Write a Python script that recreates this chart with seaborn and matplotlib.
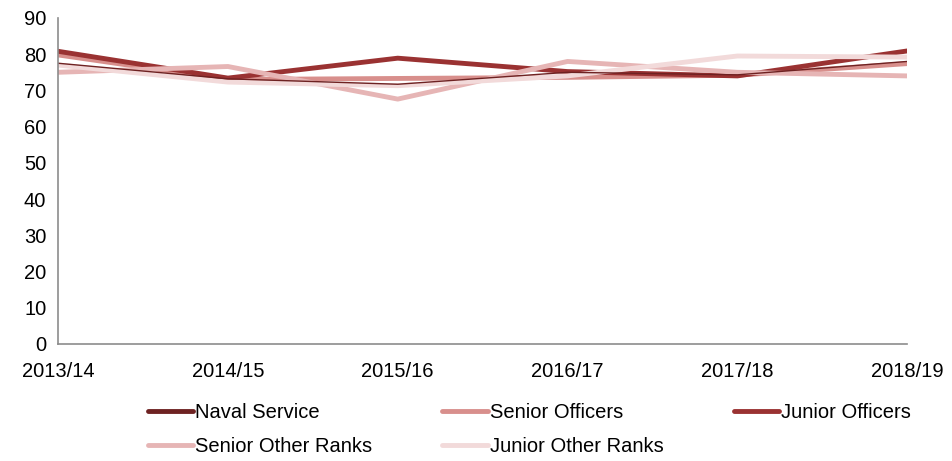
import numpy as np
import pandas as pd
import matplotlib
matplotlib.use("Agg")
import matplotlib.pyplot as plt
import seaborn as sns
from matplotlib.lines import Line2D

years = ["2013/14", "2014/15", "2015/16", "2016/17", "2017/18", "2018/19"]
naval_service = [77.5, 73.2, 71.7, 75.0, 74.3, 78.0]
senior_officers = [79.8, 73.0, 73.3, 73.6, 74.2, 77.4]
junior_officers = [80.8, 73.4, 78.9, 75.2, 74.0, 80.9]
senior_other_ranks = [75.0, 76.6, 67.6, 78.0, 75.0, 74.0]
junior_other_ranks = [77.0, 72.3, 71.3, 74.0, 79.5, 79.2]

series = ["Naval Service", "Senior Officers", "Junior Officers",
          "Senior Other Ranks", "Junior Other Ranks"]
colors = ["#6e2222", "#d88f8c", "#9a3232", "#e6b5b5", "#f2dada"]

df = pd.DataFrame({
    "year": years * 5,
    "value": naval_service + senior_officers + junior_officers
             + senior_other_ranks + junior_other_ranks,
    "group": [s for s in series for _ in years],
})
df["x"] = df["year"].map({y: i for i, y in enumerate(years)})

sns.set_style("white")
plt.rcParams["font.family"] = ["Liberation Sans", "DejaVu Sans"]
plt.rcParams["text.color"] = "black"

fig = plt.figure(figsize=(9.52, 4.61), dpi=100)
ax = fig.add_axes([0.061, 0.254, 0.892, 0.707])

# thick series first, naval service thin on top
order = ["Senior Officers", "Junior Officers", "Senior Other Ranks",
         "Junior Other Ranks", "Naval Service"]
for name in order:
    sub = df[df["group"] == name]
    lw = 1.0 if name == "Naval Service" else 3.5
    sns.lineplot(data=sub, x="x", y="value", color=colors[series.index(name)],
                 linewidth=lw, ax=ax, legend=False)

ax.set_xlim(0, len(years) - 1)
ax.set_ylim(0, 90)
ax.set_yticks(range(0, 91, 10))
ax.set_xticks(range(len(years)))
ax.set_xticklabels(years)
ax.set_xlabel("")
ax.set_ylabel("")
for side in ["top", "right"]:
    ax.spines[side].set_visible(False)
for side in ["left", "bottom"]:
    ax.spines[side].set_color("#8c8c8c")
    ax.spines[side].set_linewidth(1.2)
ax.tick_params(axis="both", direction="out", length=5, width=1.2,
               color="#8c8c8c", labelsize=14.5, labelcolor="black")
ax.tick_params(axis="x", pad=8)

# legend filled column-wise, so reorder to read row-wise like the original
leg_order = [0, 3, 1, 4, 2]
handles = [Line2D([0], [0], color=colors[i], linewidth=3.5) for i in leg_order]
labels = [series[i] for i in leg_order]
leg = fig.legend(handles, labels, loc="lower left", bbox_to_anchor=(0.155, 0.01),
                 ncol=3, frameon=False, fontsize=14.5, handlelength=2.25,
                 handletextpad=0.1, columnspacing=3.5, labelspacing=0.75,
                 borderpad=0, borderaxespad=0)
for t in leg.get_texts():
    t.set_color("black")

fig.savefig("out.png", dpi=100)
